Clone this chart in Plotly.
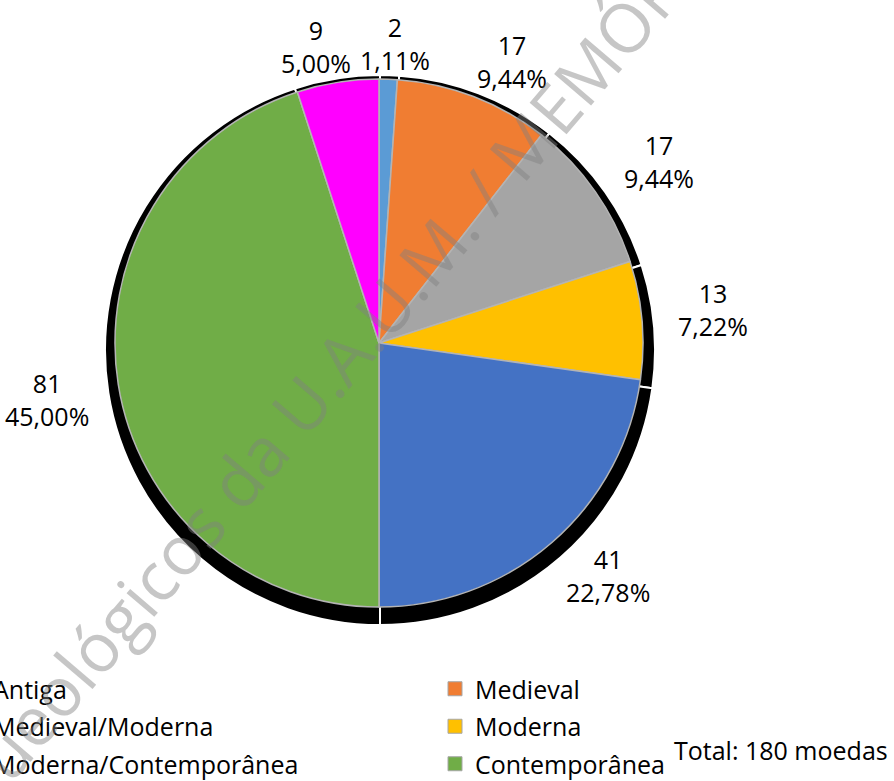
import math
import plotly.graph_objects as go

# ---- data ----
categories = ["Antiga", "Medieval", "Medieval/Moderna", "Moderna",
              "Moderna/Contemporânea", "Contemporânea", "Indeterminada"]
counts = [2, 17, 17, 13, 41, 81, 9]
colors = ["#5B9BD5", "#F07D32", "#A5A5A5", "#FFC000",
          "#4472C4", "#70AD47", "#FF00FF"]
total_template = "Total: {} moedas"
watermark = "Trabalhos Arqueológicos da U.A.U.M. / MEMÓRIAS"

# ---- layout constants (pixels) ----
W, H = 894, 781
FONT = "Open Sans"
CX, CY, R = 379, 343, 264          # pie centre / radius
SH_CX, SH_CY, SH_R = 380, 350, 275  # shadow disc
LABEL_RX, LABEL_RY = 1.27, 1.135    # label curve (fraction of radius)
LABEL_EXP = 0.9                     # superellipse exponent for label curve


def px_x(v):
    return v / W


def px_y(v):
    return 1 - v / H


def sgnpow(t, e):
    return math.copysign(abs(t) ** e, t)


fig = go.Figure()

# shadow behind the pie
fig.add_trace(go.Pie(
    labels=categories, values=counts, sort=False, direction="clockwise", rotation=0,
    marker=dict(colors=["#000000"] * len(counts), line=dict(color="#FFFFFF", width=2)),
    textinfo="none", hoverinfo="skip", showlegend=False,
    domain=dict(x=[px_x(SH_CX - SH_R), px_x(SH_CX + SH_R)],
                y=[px_y(SH_CY + SH_R), px_y(SH_CY - SH_R)]),
))

# main pie
fig.add_trace(go.Pie(
    labels=categories, values=counts, sort=False, direction="clockwise", rotation=0,
    marker=dict(colors=colors, line=dict(color="#B4B4B4", width=1.5)),
    textinfo="none", showlegend=False,
    hovertemplate="%{label}: %{value} (%{percent})<extra></extra>",
    domain=dict(x=[px_x(CX - R), px_x(CX + R)], y=[px_y(CY + R), px_y(CY - R)]),
))

# data labels outside each slice, at the slice's mid angle
total = sum(counts)
cum = 0
for v in counts:
    mid = (cum + v / 2) / total * 2 * math.pi
    cum += v
    lx = CX + LABEL_RX * R * sgnpow(math.sin(mid), LABEL_EXP)
    ly = CY - LABEL_RY * R * sgnpow(math.cos(mid), LABEL_EXP)
    pct = f"{v / total * 100:.2f}".replace(".", ",") + "%"
    fig.add_annotation(
        text=f"{v}<br>{pct}", xref="paper", yref="paper",
        x=px_x(lx), y=px_y(ly), xanchor="center", yanchor="middle",
        showarrow=False, align="center",
        font=dict(family=FONT, size=25, color="#000000"),
    )

# legend entries (two columns, row-major)
for i, (cat, col) in enumerate(zip(categories, colors)):
    fig.add_trace(go.Scatter(
        x=[None], y=[None], mode="markers", name=cat,
        marker=dict(symbol="square", size=14, color=col, line=dict(color="#A6A6A6", width=1)),
        legend="legend" if i % 2 == 0 else "legend2", legendgroup=cat,
        hoverinfo="skip",
    ))

legend_common = dict(
    xanchor="left", yanchor="top", y=px_y(666), orientation="v",
    font=dict(family=FONT, size=25, color="#000000"),
    bgcolor="rgba(0,0,0,0)", borderwidth=0, tracegroupgap=2,
)

fig.update_layout(
    width=W, height=H,
    margin=dict(l=0, r=0, t=0, b=0, autoexpand=False),
    paper_bgcolor="#FFFFFF", plot_bgcolor="#FFFFFF",
    separators=", ",
    font=dict(family=FONT, size=25, color="#000000"),
    xaxis=dict(visible=False), yaxis=dict(visible=False),
    legend=dict(x=px_x(-47), **legend_common),
    legend2=dict(x=px_x(435), **legend_common),
    showlegend=True,
)

fig.add_annotation(
    text=total_template.format(total), xref="paper", yref="paper",
    x=px_x(890), y=px_y(750), xanchor="right", yanchor="middle", showarrow=False,
    font=dict(family=FONT, size=25, color="#000000"),
)

fig.add_annotation(
    text=watermark, xref="paper", yref="paper",
    x=px_x(216), y=px_y(503), xanchor="center", yanchor="middle", showarrow=False,
    textangle=-49.5,
    font=dict(family=FONT, size=68, color="rgba(128,128,128,0.45)"),
)

fig.write_html("out.html", config={"displayModeBar": False},
               post_script="document.body.style.margin='0px';")
